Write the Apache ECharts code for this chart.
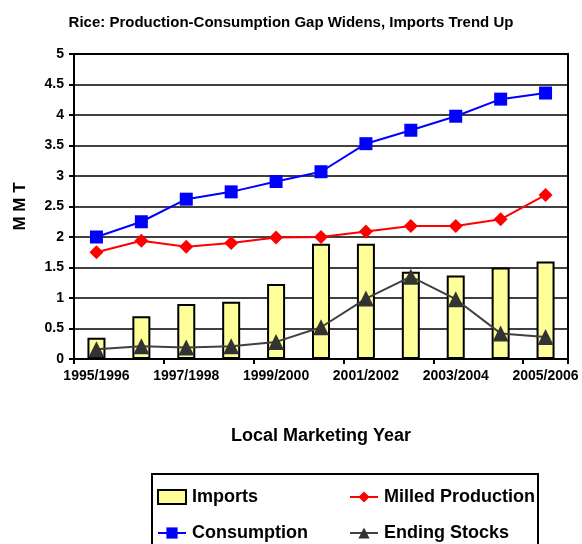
<!DOCTYPE html>
<html>
<head>
<meta charset="utf-8">
<script src="https://cdn.jsdelivr.net/npm/echarts@6/dist/echarts.min.js"></script>
<style>
html,body{margin:0;padding:0;background:#fff;}
#chart{width:582px;height:544px;}
</style>
</head>
<body>
<div id="chart"></div>
<script>
// marketing years
var years = ['1995/1996','1996/1997','1997/1998','1998/1999','1999/2000','2000/2001',
             '2001/2002','2002/2003','2003/2004','2004/2005','2005/2006'];
// million metric tons
var imports     = [0.35, 0.70, 0.90, 0.94, 1.23, 1.89, 1.89, 1.43, 1.37, 1.50, 1.60];
var milledProd  = [1.75, 1.94, 1.84, 1.90, 1.99, 2.00, 2.09, 2.18, 2.18, 2.29, 2.69];
var consumption = [2.00, 2.25, 2.62, 2.74, 2.91, 3.07, 3.53, 3.75, 3.98, 4.26, 4.36];
var endStocks   = [0.16, 0.21, 0.19, 0.21, 0.28, 0.52, 0.99, 1.35, 0.98, 0.42, 0.36];

var font = "'Liberation Sans', Arial, sans-serif";
var chart = echarts.init(document.getElementById('chart'));

// one legend per entry so the 2x2 layout is fixed
function legendAt(name, left, top, icon) {
    var lg = {
        left: left, top: top,
        itemWidth: 28, itemHeight: 14, itemGap: 0,
        data: [name],
        textStyle: {fontFamily: font, fontWeight: 'bold', fontSize: 18, color: '#000', padding: [0, 0, 0, 1]}
    };
    if (icon) lg.icon = icon;
    return lg;
}

var option = {
    backgroundColor: '#fff',
    animation: false,
    title: {
        text: 'Rice: Production-Consumption Gap Widens, Imports Trend Up',
        left: 'center',
        top: 10,
        textStyle: {fontFamily: font, fontWeight: 'bold', fontSize: 15, color: '#000'}
    },
    grid: {
        left: 74, right: 14, top: 54, bottom: 185,
        show: true, borderColor: '#000', borderWidth: 2
    },
    legend: [
        legendAt('Imports', 152, 483, 'rect'),
        legendAt('Milled Production', 344, 483),
        legendAt('Consumption', 152, 519),
        legendAt('Ending Stocks', 344, 519)
    ],
    graphic: [{
        type: 'rect',
        shape: {x: 152, y: 474, width: 386, height: 80},
        style: {fill: 'none', stroke: '#000', lineWidth: 2}
    }],
    xAxis: {
        type: 'category',
        data: years,
        boundaryGap: true,
        name: 'Local Marketing Year',
        nameLocation: 'middle',
        nameGap: 68,
        nameTextStyle: {fontFamily: font, fontWeight: 'bold', fontSize: 18, color: '#000'},
        axisLine: {lineStyle: {color: '#000', width: 2}},
        axisTick: {show: true, length: 5, lineStyle: {color: '#000', width: 2}},
        axisLabel: {
            interval: 1, margin: 10,
            fontFamily: font, fontWeight: 'bold', fontSize: 14, color: '#000'
        }
    },
    yAxis: {
        type: 'value',
        min: 0, max: 5, interval: 0.5,
        name: 'M M T',
        nameLocation: 'middle',
        nameGap: 45,
        nameRotate: 90,
        nameTextStyle: {fontFamily: font, fontWeight: 'bold', fontSize: 17, color: '#000'},
        axisLine: {show: true, lineStyle: {color: '#000', width: 2}},
        axisTick: {show: true, length: 5, lineStyle: {color: '#000', width: 2}},
        axisLabel: {margin: 10, fontFamily: font, fontWeight: 'bold', fontSize: 14, color: '#000'},
        splitLine: {lineStyle: {color: '#000', width: 1.5}}
    },
    series: [{
        name: 'Imports',
        type: 'bar',
        data: imports,
        barWidth: 18,
        itemStyle: {color: '#FFFF99', borderColor: '#000', borderWidth: 2},
        z: 2
    }, {
        name: 'Milled Production',
        type: 'line',
        data: milledProd,
        symbol: 'diamond',
        symbolSize: 14,
        color: '#FF0000',
        lineStyle: {color: '#FF0000', width: 2},
        itemStyle: {color: '#FF0000'},
        z: 3
    }, {
        name: 'Consumption',
        type: 'line',
        data: consumption,
        symbol: 'rect',
        symbolSize: 13,
        color: '#0000FF',
        lineStyle: {color: '#0000FF', width: 2},
        itemStyle: {color: '#0000FF'},
        z: 3
    }, {
        name: 'Ending Stocks',
        type: 'line',
        data: endStocks,
        symbol: 'triangle',
        symbolSize: 16,
        color: '#333333',
        lineStyle: {color: '#404040', width: 2},
        itemStyle: {color: '#333333'},
        z: 3
    }]
};

chart.setOption(option);
</script>
</body>
</html>
